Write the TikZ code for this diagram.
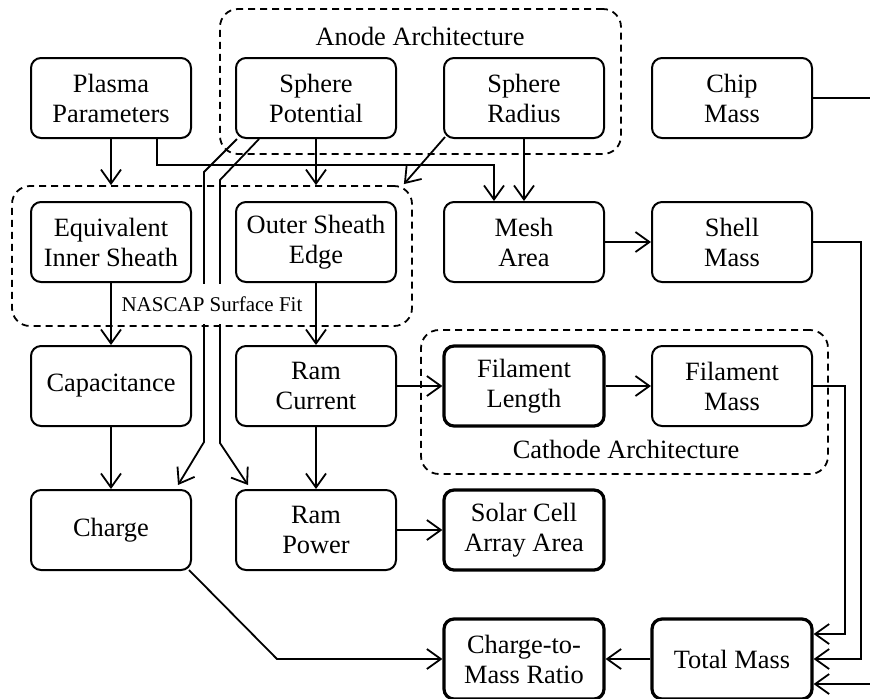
\documentclass[tikz,border=0pt]{standalone}
\usepackage{fontspec}
\setmainfont{Liberation Serif}
\usetikzlibrary{arrows.meta}

\tikzset{
  box/.style={draw, line width=1pt, rounded corners=5pt, minimum width=80pt,
    minimum height=40pt, align=center, inner sep=0pt,
    font=\fontsize{13.2}{15}\selectfont},
  keybox/.style={box, line width=1.6pt},
  group/.style={draw, line width=0.9pt, dash pattern=on 3.5pt off 2.5pt,
    rounded corners=9pt, inner sep=0pt},
  grouptxt/.style={font=\fontsize{13.2}{15}\selectfont},
  flow/.style={-{Straight Barb[length=7pt,width=10pt]}, line width=0.9pt}
}

\begin{document}
\begin{tikzpicture}[x=0.5pt,y=-0.5pt]

\useasboundingbox (0,0) rectangle (870,698);

% Grupos
\node[group, minimum width=200.5pt, minimum height=72.5pt] (anode) at (420.5,81.5) {};
\node[group, minimum width=200pt, minimum height=70pt] (nascap) at (212,256) {};
\node[group, minimum width=203.5pt, minimum height=72pt] (cathode) at (624.5,402) {};

\node[grouptxt, anchor=base] (anodetxt) at (420,45) {Anode Architecture};
\node[grouptxt, anchor=base] (cathodetxt) at (626,458) {Cathode Architecture};

% Caixas
\node[box] (plasma) at (111,98) {Plasma\\Parameters};
\node[box] (spot) at (316,98) {Sphere\\Potential};
\node[box] (srad) at (524,98) {Sphere\\Radius};
\node[box] (chip) at (732,98) {Chip\\Mass};

\node[box] (eqs) at (111,242) {Equivalent\\Inner Sheath};
\node[box] (ose) at (316,242) {Outer Sheath\\Edge};
\node[box] (mesh) at (524,242) {Mesh\\Area};
\node[box] (shell) at (732,242) {Shell\\Mass};

\node[box] (cap) at (111,386) {Capacitance};
\node[box] (ramc) at (316,386) {Ram\\Current};
\node[keybox] (fill) at (524,386) {Filament\\Length};
\node[box] (film) at (732,386) {Filament\\Mass};

\node[box] (charge) at (111,530) {Charge};
\node[box] (rampow) at (316,530) {Ram\\Power};
\node[keybox] (solar) at (524,530) {Solar Cell\\Array Area};

\node[keybox] (c2m) at (524,659) {Charge-to-\\Mass Ratio};
\node[keybox] (total) at (732,659) {Total Mass};

% Setas de cima
\draw[flow] (plasma) -- (plasma |- nascap.north);
\draw[flow] ([xshift=23pt]plasma.south) -- ++(0,-13pt) -| ([xshift=-15pt]mesh.north);
\draw[flow] (spot) -- (spot |- nascap.north);
\draw[flow] ([xshift=1pt,yshift=1pt]srad.south west) -- ([xshift=-4.5pt,yshift=0.5pt]nascap.north east);
\draw[flow] (srad) -- (mesh);
\draw[flow] (mesh) -- (shell);

% Potencial para carga e potencia
\draw[flow] ([xshift=1pt]spot.south west) -- (204,172) -- (204,442)
  -- ([xshift=-7pt,yshift=2pt]charge.north east);
\draw[flow] ([xshift=12pt]spot.south west) -- (220,180) -- (220,443)
  -- ([xshift=6.5pt,yshift=2pt]rampow.north west);

% Setas do meio
\draw[flow] (eqs) -- (cap);
\draw[flow] (ose) -- (ramc);
\draw[flow] (ramc) -- (fill);
\draw[flow] (fill) -- (film);
\draw[flow] (cap) -- (charge);
\draw[flow] (ramc) -- (rampow);
\draw[flow] (rampow) -- (solar);

% Massas
\draw[flow] (film.east) -- ++(16pt,0) |- ([yshift=12.5pt]total.east);
\draw[flow] (shell.east) -- ++(24pt,0) |- (total.east);
\draw[flow] (chip.east) -- ++(36pt,0) |- ([yshift=-12.5pt]total.east);
\draw[flow] (total) -- (c2m);
\draw[flow] ([xshift=-1.5pt,yshift=0.5pt]charge.south east) -- (277,659) -- (c2m.west);

% Rotulo NASCAP
\node[fill=white, minimum height=20pt, inner xsep=3pt, inner ysep=0pt,
  font=\fontsize{10.5}{12}\selectfont] (nascaptxt) at (212,304) {NASCAP Surface Fit};

\end{tikzpicture}
\end{document}
